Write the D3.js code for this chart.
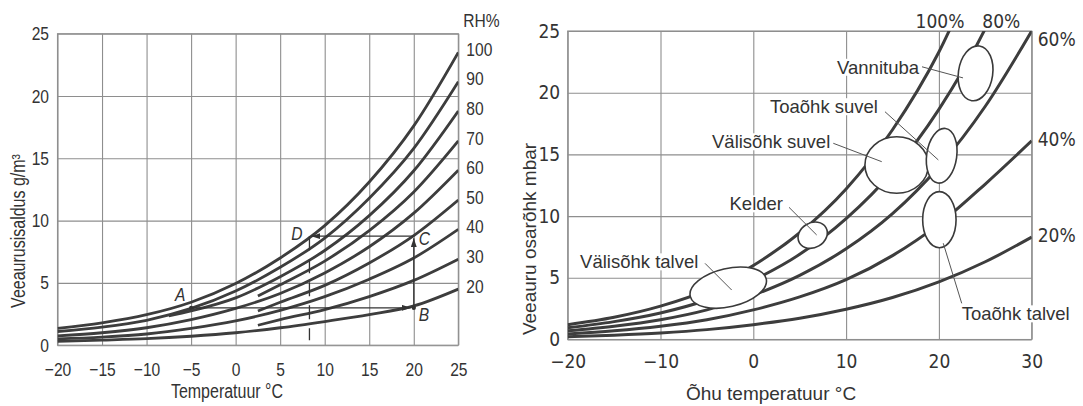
<!DOCTYPE html>
<html><head><meta charset="utf-8">
<script src="https://cdn.jsdelivr.net/npm/d3@7"></script>
<style>
html,body{margin:0;padding:0;background:#fff;}
svg{display:block;}
.tickL{font-family:"Liberation Sans",Arial,sans-serif;font-size:19px;fill:#333;}
.tickR{font-family:"DejaVu Sans Condensed","DejaVu Sans",sans-serif;font-stretch:condensed;font-size:19px;fill:#333;}
.titleL{font-family:"Liberation Sans",Arial,sans-serif;font-size:19.5px;fill:#333;}
.titleR{font-family:"Liberation Sans",Arial,sans-serif;font-size:19px;fill:#333;}
.zone{font-family:"Liberation Sans",Arial,sans-serif;font-size:18.5px;fill:#333;}
.pt{font-family:"Liberation Sans",Arial,sans-serif;font-style:italic;font-size:19px;fill:#333;}
</style></head>
<body><svg id="chart" width="1083" height="406"></svg>
<script>
// ---------- LEFT CHART DATA (absolute humidity g/m3) ----------
const leftTemps        = [-20,-15,-10,-5,0,5,10,15,20,25];
const leftTempsFrom75  = [-7.5,-5,0,5,10,15,20,25];
const leftTempsFrom25  = [2.5,5,10,15,20,25];
const leftRH100 = [1.35,1.8,2.45,3.45,4.95,7.0,9.6,13.1,17.6,23.5];
const leftRH90  = [1.1,1.45,2.0,2.95,4.35,6.25,8.6,11.8,15.8,21.15];
const leftRH80  = [2.35,2.75,3.8,5.5,7.6,10.4,14.0,18.8];
const leftRH70  = [3.95,4.85,6.75,9.2,12.3,16.4];
const leftRH60  = [0.75,1.0,1.4,2.05,2.95,4.15,5.8,7.9,10.6,14.05];
const leftRH50  = [2.75,3.45,4.8,6.6,8.8,11.65];
const leftRH40  = [0.5,0.65,0.9,1.35,1.95,2.8,3.9,5.3,7.0,9.3];
const leftRH30  = [1.6,2.05,2.85,3.9,5.2,6.9];
const leftRH20  = [0.3,0.4,0.52,0.72,1.0,1.4,1.9,2.45,3.15,4.5];
const leftRHLabels = ["100","90","80","70","60","50","40","30","20"];
const leftXTicks = [-20,-15,-10,-5,0,5,10,15,20,25];
const leftYTicks = [0,5,10,15,20,25];
// process A -> B -> C -> D
const processTemps  = [-5,20,20,8.4];
const processValues = [3.0,3.0,8.75,8.75];
const processNames  = ["A","B","C","D"];
const dewLineBottom = 0.4;

// ---------- RIGHT CHART DATA (vapour pressure mbar) ----------
const rightTemps = [-20,-15,-10,-5,0,5,10,15,20,25,30];
const rightRH100 = [1.2,1.8,2.7,4.0,6.0,8.65,12.2,17.0,23.3,31.7];
const rightRH80  = [0.95,1.45,2.15,3.2,4.8,6.9,9.8,13.6,18.65,25.2,33.9];
const rightRH60  = [0.7,1.07,1.6,2.4,3.6,5.2,7.35,10.2,14.0,18.9,25.0];
const rightRH40  = [0.45,0.7,1.07,1.6,2.4,3.45,4.85,6.8,9.35,12.6,16.1];
const rightRH20  = [0.22,0.35,0.53,0.8,1.2,1.72,2.45,3.4,4.67,6.3,8.3];
const rightRHLabels = ["100%","80%","60%","40%","20%"];
const rightXTicks = [-20,-10,0,10,20,30];
const rightYTicks = [0,5,10,15,20,25];
// zones (ellipses): centre temp, centre pressure, half width (°C), half height (mbar)
const zoneNames    = ["Välisõhk talvel","Kelder","Välisõhk suvel","Toaõhk suvel","Vannituba","Toaõhk talvel"];
const zoneTemp     = [-2.7,6.4,15.45,20.3,23.95,20.05];
const zonePressure = [4.2,8.45,14.14,14.89,21.57,9.71];
const zoneHalfT    = [4.2,1.65,3.42,1.62,1.85,1.8];
const zoneHalfP    = [1.55,1.0,2.29,2.23,2.24,2.27];
// leader lines: label end -> ellipse interior
const leaderFrom = [[-5.2,6.17],[3.85,10.71],[8.62,15.9],[14.19,18.46],[18.18,22.1],[20.47,7.8]];
const leaderTo   = [[-2.33,4.01],[6.83,8.47],[13.84,14.41],[19.94,14.55],[22.6,21.2],[22.46,2.93]];

// ---------- DRAW ----------
const svg = d3.select("#chart");
const gridColor = "#8e8e8e", curveColor = "#3d3d3d";
const NARROW = 0.82;
function narrow(sel){
  sel.each(function(){
    const L = this.getComputedTextLength();
    d3.select(this).attr("textLength",L*NARROW).attr("lengthAdjust","spacingAndGlyphs");
  });
}

const defs = svg.append("defs");
defs.append("marker").attr("id","arr").attr("viewBox","0 0 9 6").attr("refX",9).attr("refY",3)
  .attr("markerWidth",9).attr("markerHeight",6).attr("markerUnits","userSpaceOnUse").attr("orient","auto")
  .append("path").attr("d","M0,0L9,3L0,6Z").attr("fill","#333");

function panel(id, x, y, xTicks, yTicks, tickClass, padX, padY) {
  const g = svg.append("g");
  const [x0,x1] = x.range(), [y0,y1] = y.range();
  defs.append("clipPath").attr("id",id).append("rect")
    .attr("x",x0).attr("y",y1).attr("width",x1-x0).attr("height",y0-y1);
  const ax = g.append("g").attr("transform",`translate(0,${y0})`)
    .call(d3.axisBottom(x).tickValues(xTicks).tickSize(-(y0-y1)).tickSizeOuter(0).tickPadding(padX));
  const ay = g.append("g").attr("transform",`translate(${x0},0)`)
    .call(d3.axisLeft(y).tickValues(yTicks).tickSize(-(x1-x0)).tickSizeOuter(0).tickPadding(padY));
  [ax,ay].forEach(a=>{
    a.select(".domain").remove();
    a.selectAll(".tick line").attr("stroke",gridColor).attr("stroke-width",1.1);
    a.selectAll(".tick text").attr("class",tickClass);
  });
  g.append("rect").attr("x",x0).attr("y",y1).attr("width",x1-x0).attr("height",y0-y1)
    .attr("fill","none").attr("stroke",gridColor).attr("stroke-width",1.1);
  return g;
}

// LEFT
const xL = d3.scaleLinear().domain([-20,25]).range([57.5,458.3]);
const yL = d3.scaleLinear().domain([0,25]).range([345.2,33.7]);
const gL = panel("clipL", xL, yL, leftXTicks, leftYTicks, "tickL", 17.5, 8.5);
const lineL = d3.line().x(d=>xL(d[0])).y(d=>yL(d[1])).curve(d3.curveMonotoneX);
const leftSeries = [
  [leftTemps,leftRH100],[leftTemps,leftRH90],[leftTempsFrom75,leftRH80],[leftTempsFrom25,leftRH70],
  [leftTemps,leftRH60],[leftTempsFrom25,leftRH50],[leftTemps,leftRH40],[leftTempsFrom25,leftRH30],[leftTemps,leftRH20]
];
const gLc = gL.append("g").attr("clip-path","url(#clipL)");
leftSeries.forEach(([t,v])=>{
  gLc.append("path").attr("d",lineL(t.map((d,i)=>[d,v[i]])))
    .attr("fill","none").attr("stroke",curveColor).attr("stroke-width",2.8);
});
leftSeries.forEach(([t,v],i)=>{
  gL.append("text").attr("class","tickL rhl").attr("x",xL(25)+8).attr("y",yL(v[v.length-1])-3)
    .attr("dy","0.35em").text(leftRHLabels[i]);
});
gL.append("text").attr("class","tickL rhl").attr("x",xL(25)+5).attr("y",26.5).text("RH%");

// process lines
const P = processTemps.map((t,i)=>[xL(t),yL(processValues[i])]);
for (let i=0;i<3;i++){
  gL.append("line").attr("x1",P[i][0]).attr("y1",P[i][1])
    .attr("x2",P[i+1][0]+(i===0?-3:(i===2?1:0))).attr("y2",P[i+1][1]+(i===1?2:0))
    .attr("stroke","#333").attr("stroke-width",1.3).attr("marker-end","url(#arr)");
}
gL.append("line").attr("x1",P[3][0]-1).attr("y1",P[3][1]).attr("x2",P[3][0]-1).attr("y2",yL(dewLineBottom))
  .attr("stroke","#333").attr("stroke-width",1.3).attr("stroke-dasharray","14,9");
gL.append("circle").attr("cx",P[1][0]).attr("cy",P[1][1]).attr("r",2.2).attr("fill","#333");
gL.append("circle").attr("cx",P[0][0]).attr("cy",P[0][1]).attr("r",2).attr("fill","#333");
const ptOff = [[-11,-6.5,"middle"],[5,13,"start"],[5,9,"start"],[-8,4,"end"]];
processNames.forEach((n,i)=>{
  gL.append("text").attr("class","pt").attr("x",P[i][0]+ptOff[i][0]).attr("y",P[i][1]+ptOff[i][1])
    .attr("text-anchor",ptOff[i][2]).text(n);
});
gL.append("text").attr("class","titleL").attr("transform","translate(25,231) rotate(-90)")
  .attr("text-anchor","middle").text("Veeaurusisaldus g/m³");
gL.append("text").attr("class","titleL").attr("x",227).attr("y",398)
  .attr("text-anchor","middle").text("Temperatuur °C");
narrow(gL.selectAll(".tickL"));
narrow(gL.selectAll(".titleL"));
narrow(gL.selectAll(".pt"));

// RIGHT
const xR = d3.scaleLinear().domain([-20,30]).range([567.7,1031.7]);
const yR = d3.scaleLinear().domain([0,25]).range([339.5,31]);
const gR = panel("clipR", xR, yR, rightXTicks, rightYTicks, "tickR", 15.5, 7.5);
const lineR = d3.line().x(d=>xR(d[0])).y(d=>yR(d[1])).curve(d3.curveMonotoneX);
const rightSeries = [rightRH100,rightRH80,rightRH60,rightRH40,rightRH20];
const gRc = gR.append("g").attr("clip-path","url(#clipR)");
rightSeries.forEach(v=>{
  gRc.append("path").attr("d",lineR(v.map((d,i)=>[rightTemps[i],d])))
    .attr("fill","none").attr("stroke",curveColor).attr("stroke-width",3);
});
// zones
const zoneTilt = [-13,-30,0,8,8,0];
zoneNames.forEach((n,i)=>{
  const cx = xR(zoneTemp[i]), cy = yR(zonePressure[i]);
  const rx = xR(zoneTemp[i]+zoneHalfT[i]) - cx, ry = cy - yR(zonePressure[i]+zoneHalfP[i]);
  gR.append("ellipse").attr("cx",cx).attr("cy",cy).attr("rx",rx).attr("ry",ry)
    .attr("transform",`rotate(${zoneTilt[i]},${cx},${cy})`)
    .attr("fill","#fff").attr("stroke","#3a3a3a").attr("stroke-width",1.6);
});
leaderFrom.forEach((f,i)=>{
  gR.append("line").attr("x1",xR(f[0])).attr("y1",yR(f[1])).attr("x2",xR(leaderTo[i][0])).attr("y2",yR(leaderTo[i][1]))
    .attr("stroke","#555").attr("stroke-width",1);
});
// zone labels (positions relative to leader start)
const zoneLabelPos = [[-5.6,6.17,"end",-3,5],[3.85,10.71,"end",-6,3],[8.62,15.9,"end",-3,5],[14.19,18.46,"end",-7,1.5],[18.18,22.1,"end",-3,7],[22.46,2.93,"start",0,17]];
zoneNames.forEach((n,i)=>{
  const p = zoneLabelPos[i];
  const t = gR.append("text").attr("class","zone").attr("x",xR(p[0])+p[3]).attr("y",yR(p[1])+p[4])
    .attr("text-anchor",p[2]).text(n);
  const b = t.node().getBBox();
  gR.insert("rect","text.zone").attr("x",b.x-1).attr("y",b.y+2).attr("width",b.width+2).attr("height",b.height-4).attr("fill","#fff");
});
gR.selectAll("text.zone").raise();
// percent labels
gR.append("text").attr("class","tickR").attr("x",xR(21.2)-10).attr("y",28).attr("text-anchor","middle").text(rightRHLabels[0]);
gR.append("text").attr("class","tickR").attr("x",xR(25)+16).attr("y",28).attr("text-anchor","middle").text(rightRHLabels[1]);
[[rightRH60,8.7],[rightRH40,-1],[rightRH20,-1.5]].forEach(([v,dy],i)=>{
  gR.append("text").attr("class","tickR").attr("x",xR(30)+6).attr("y",yR(v[v.length-1])+dy)
    .attr("dy","0.35em").text(rightRHLabels[i+2]);
});
gR.append("text").attr("class","titleR").attr("transform","translate(536,239) rotate(-90)")
  .attr("text-anchor","middle").text("Veeauru osarõhk mbar");
gR.append("text").attr("class","titleR").attr("x",771).attr("y",400)
  .attr("text-anchor","middle").text("Õhu temperatuur °C");
</script>
</body></html>
